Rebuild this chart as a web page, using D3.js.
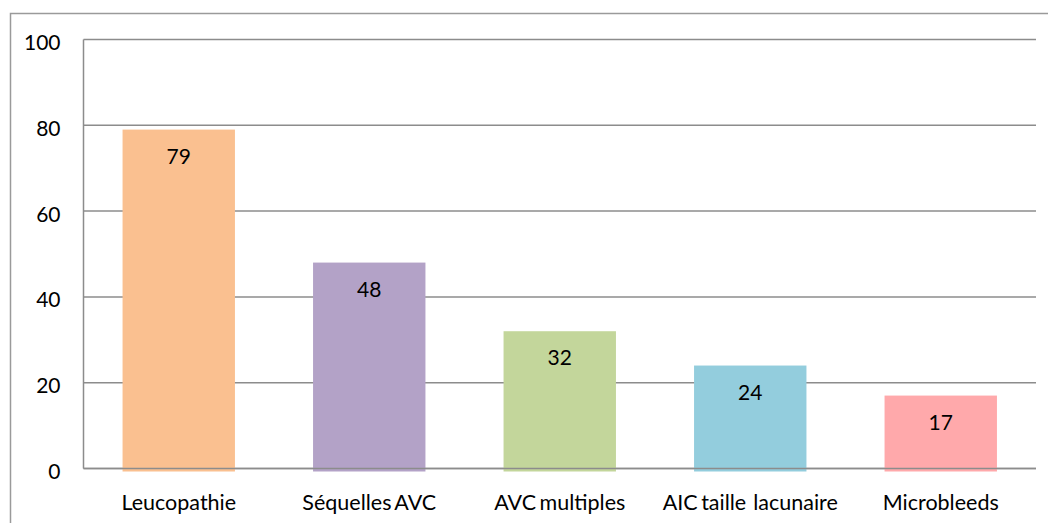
<!DOCTYPE html>
<html>
<head>
<meta charset="utf-8">
<script src="https://cdn.jsdelivr.net/npm/d3@7"></script>
<style>
  html, body { margin: 0; padding: 0; background: #fff; }
  svg { display: block; }
  text { font-family: Lato, "Open Sans", sans-serif; fill: #000; }
</style>
</head>
<body>
<svg id="chart" width="1048" height="523"></svg>
<script>
// Categories and values (percent)
const categories = ["Leucopathie", "Séquelles AVC", "AVC multiples", "AIC taille  lacunaire", "Microbleeds"];
const values = [79, 48, 32, 24, 17];
const colors = ["#FAC090", "#B3A2C7", "#C3D69B", "#93CDDD", "#FFA9AB"];
const yTicks = [0, 20, 40, 60, 80, 100];

const svg = d3.select("#chart");

// Plot area
const plotLeft = 83.5, plotRight = 1036, plotTop = 39.5, plotBottom = 468.5;

const x = d3.scaleBand()
  .domain(categories)
  .range([plotLeft, plotRight])
  .paddingInner(0.41)
  .paddingOuter(0.205);

const y = d3.scaleLinear().domain([0, 100]).range([plotBottom, plotTop]);

// Outer chart frame
svg.append("path")
  .attr("d", "M10.5,523 L10.5,13.5 L1048,13.5")
  .attr("fill", "none")
  .attr("stroke", "#9a9a9a")
  .attr("stroke-width", 1.5);

// Horizontal gridlines
svg.append("g")
  .selectAll("line")
  .data(yTicks)
  .join("line")
  .attr("x1", plotLeft)
  .attr("x2", plotRight)
  .attr("y1", d => y(d))
  .attr("y2", d => y(d))
  .attr("stroke", "#8c8c8c")
  .attr("stroke-width", 1.5);

// Bars
svg.append("g")
  .selectAll("rect")
  .data(values)
  .join("rect")
  .attr("x", (d, i) => x(categories[i]))
  .attr("width", x.bandwidth())
  .attr("y", d => y(d))
  .attr("height", d => y(0) - y(d) + 3)
  .attr("fill", (d, i) => colors[i]);

// Zero line and vertical axis line drawn over the bars
svg.append("line")
  .attr("x1", plotLeft).attr("x2", plotRight)
  .attr("y1", y(0)).attr("y2", y(0))
  .attr("stroke", "#8c8c8c").attr("stroke-width", 1.5);
svg.append("line")
  .attr("x1", plotLeft).attr("x2", plotLeft)
  .attr("y1", y(100)).attr("y2", y(0))
  .attr("stroke", "#8c8c8c").attr("stroke-width", 1.5);

// Y axis labels
const yAxis = d3.axisLeft(y).tickValues(yTicks).tickSize(0).tickPadding(23);
const gy = svg.append("g").attr("transform", `translate(${plotLeft},0)`).call(yAxis);
gy.select(".domain").remove();
gy.selectAll("text")
  .attr("font-size", 21)
  .attr("font-family", "Lato, 'Open Sans', sans-serif")
  .attr("fill", "#000")
  .attr("dy", "0.48em");

// X axis labels
const xAxis = d3.axisBottom(x).tickSize(0).tickPadding(26);
const gx = svg.append("g").attr("transform", `translate(0,${plotBottom})`).call(xAxis);
gx.select(".domain").remove();
gx.selectAll("text")
  .attr("font-size", 21.5)
  .attr("font-family", "Lato, 'Open Sans', sans-serif")
  .attr("fill", "#000")
  .attr("word-spacing", -2)
  .style("white-space", "pre")
  .attr("xml:space", "preserve");

// Value labels inside bars
svg.append("g")
  .selectAll("text")
  .data(values)
  .join("text")
  .attr("x", (d, i) => x(categories[i]) + x.bandwidth() / 2)
  .attr("y", d => y(d) + 34)
  .attr("text-anchor", "middle")
  .attr("font-size", 21)
  .text(d => d);
</script>
</body>
</html>
